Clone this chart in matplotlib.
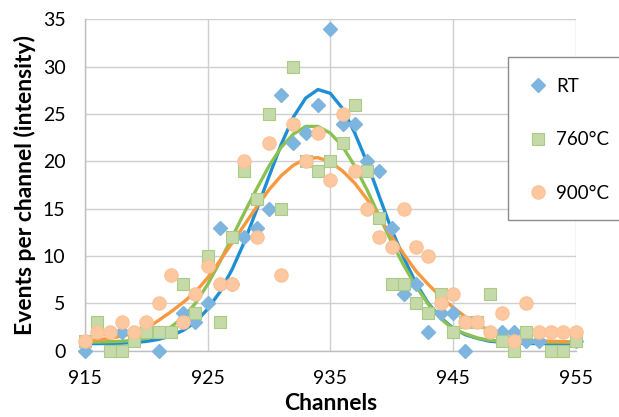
import matplotlib.pyplot as plt
from matplotlib.patches import Rectangle

# measured points (channel, events)
rt_ch = [915, 918, 921, 923, 924, 925, 926, 927, 928, 929, 930, 931, 932, 933, 934,
         935, 936, 937, 938, 939, 940, 941, 942, 943, 944, 945, 946, 949, 950, 951,
         952, 955]
rt_val = [0, 2, 0, 4, 3, 5, 13, 7, 12, 13, 15, 27, 22, 23, 26,
          34, 24, 24, 20, 19, 13, 6, 7, 2, 4, 4, 0, 2, 2, 1,
          1, 1]

c760_ch = [915, 916, 917, 918, 919, 920, 921, 922, 923, 924, 925, 926, 927, 928, 929,
           930, 931, 932, 933, 934, 935, 936, 937, 938, 939, 940, 941, 942, 943, 944,
           945, 946, 947, 948, 949, 950, 951, 953, 954, 955]
c760_val = [1, 3, 0, 0, 1, 2, 2, 2, 7, 4, 10, 3, 12, 19, 16,
            25, 15, 30, 20, 19, 20, 22, 26, 19, 14, 7, 7, 5, 4, 6,
            2, 3, 3, 6, 1, 0, 2, 0, 0, 1]

c900_ch = list(range(915, 956))
c900_val = [1, 2, 2, 3, 2, 3, 5, 8, 3, 6, 9, 7, 7, 20, 12,
            22, 8, 24, 20, 23, 18, 25, 19, 15, 12, 11, 15, 11, 10, 5,
            6, 3, 3, 2, 4, 1, 5, 2, 2, 2, 2]

# fitted curves, one value per channel 915..955
fit_ch = list(range(915, 956))
rt_fit = [0.75, 0.75, 0.77, 0.8, 0.87, 0.98, 1.2, 1.55, 2.15, 3.0, 4.4, 6.2, 8.6, 11.5, 14.9,
          18.4, 21.8, 24.7, 26.7, 27.6, 27.2, 25.6, 23.0, 19.9, 16.3, 12.8, 9.8, 7.1, 5.0, 3.5,
          2.4, 1.7, 1.3, 1.0, 0.9, 0.8, 0.77, 0.75, 0.75, 0.75, 0.75]
c760_fit = [0.9, 0.92, 0.95, 1.0, 1.1, 1.3, 1.7, 2.5, 3.5, 5.0, 7.0, 9.4, 12.0, 14.6, 17.1,
            19.5, 21.5, 22.9, 23.7, 23.7, 23.0, 21.6, 19.5, 17.0, 14.2, 11.5, 9.0, 6.8, 4.9, 3.4,
            2.3, 1.8, 1.35, 1.1, 1.0, 0.95, 0.9, 0.9, 0.9, 0.9, 0.9]
c900_fit = [1.05, 1.15, 1.31, 1.54, 1.87, 2.34, 3.2, 4.1, 5.1, 6.2, 7.7, 9.5, 11.4, 13.3, 15.2,
            17.0, 18.5, 19.6, 20.3, 20.4, 19.95, 19.0, 17.7, 16.0, 14.1, 12.1, 10.2, 8.4, 7.0, 5.7,
            4.6, 3.6, 2.8, 2.1, 1.6, 1.3, 1.15, 1.05, 1.0, 0.96, 0.93]

labels = ['RT', '760°C', '900°C']
x_ticks = [915, 925, 935, 945, 955]
y_ticks = [0, 5, 10, 15, 20, 25, 30, 35]

plt.rcParams['font.family'] = ['Lato', 'DejaVu Sans']

fig = plt.figure(figsize=(6.19, 4.17), dpi=100)
ax = fig.add_axes([85 / 619, 1 - 350.7 / 417, 490.5 / 619, 331.2 / 417])

ax.plot(fit_ch, rt_fit, color='#1F8FD4', lw=2.4, zorder=2)
ax.plot(fit_ch, c760_fit, color='#8CC151', lw=2.4, zorder=2)
ax.plot(fit_ch, c900_fit, color='#F8983F', lw=2.4, zorder=2)

h_rt, = ax.plot(rt_ch, rt_val, ls='none', marker='D', ms=6.8, mfc='#7EB5DF', mec='#7EB5DF',
                zorder=3, clip_on=False)
h_760, = ax.plot(c760_ch, c760_val, ls='none', marker='s', ms=8.6, mfc='#C5DAA8', mec='#AACB86',
                 mew=0.8, zorder=4, clip_on=False)
h_900, = ax.plot(c900_ch, c900_val, ls='none', marker='o', ms=9.6, mfc='#FDC8A0', mec='#FCC094',
                 mew=0.8, zorder=5, clip_on=False)

ax.set_xlim(915, 955)
ax.set_ylim(0, 35)
ax.set_xticks(x_ticks)
ax.set_yticks(y_ticks)
ax.tick_params(axis='both', length=0, labelsize=14, colors='#000000')
ax.tick_params(axis='y', pad=14)
ax.tick_params(axis='x', pad=14)

ax.grid(color='#CFCFCF', lw=1.0)
ax.set_axisbelow(True)
for side in ['top', 'right']:
    ax.spines[side].set_visible(False)
for side in ['left', 'bottom']:
    ax.spines[side].set_color('#BFBFBF')
    ax.spines[side].set_linewidth(1.0)

ax.set_xlabel('Channels', fontsize=16.5, fontweight='bold', labelpad=4)
ax.set_ylabel('Events per channel (intensity)', fontsize=16.5, fontweight='bold', labelpad=5)

# legend box runs off the right edge of the picture
box = Rectangle((508 / 619, 1 - 220 / 417), 140 / 619, 163 / 417, transform=fig.transFigure,
                facecolor='white', edgecolor='#8C8C8C', lw=1.0, zorder=4)
fig.patches.append(box)
fig.legend([h_rt, h_760, h_900], labels, loc='upper left',
           bbox_to_anchor=(508 / 619, 1 - 57 / 417), fontsize=13.5, frameon=False,
           borderpad=1.1, labelspacing=1.95, handlelength=1.0, handletextpad=0.45,
           borderaxespad=0).set_zorder(5)

plt.savefig('out.png', dpi=100)
